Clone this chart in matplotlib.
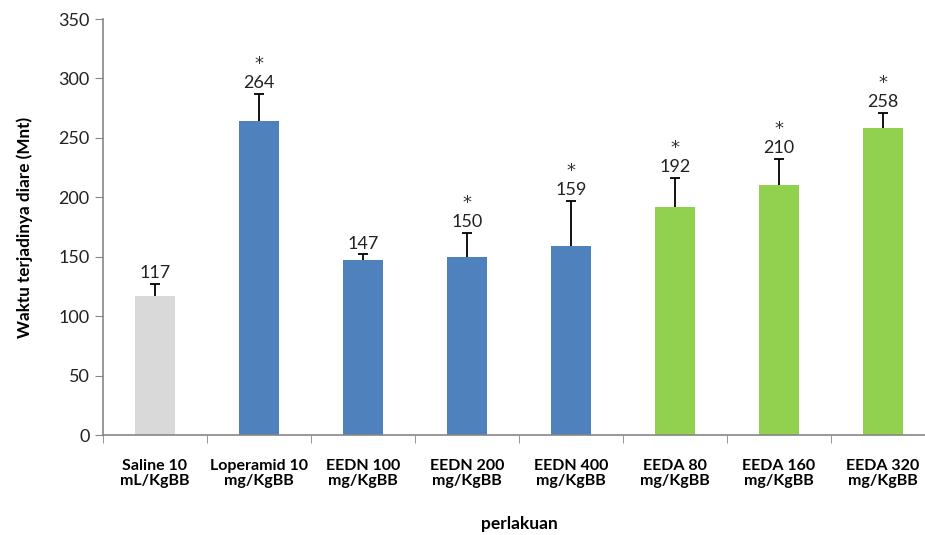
import numpy as np
import matplotlib.pyplot as plt

plt.rcParams['font.family'] = ['Lato', 'DejaVu Sans']

categories = ['Saline 10\nmL/KgBB', 'Loperamid 10\nmg/KgBB', 'EEDN 100\nmg/KgBB',
              'EEDN 200\nmg/KgBB', 'EEDN 400\nmg/KgBB', 'EEDA 80\nmg/KgBB',
              'EEDA 160\nmg/KgBB', 'EEDA 320\nmg/KgBB']
means = [117, 264, 147, 150, 159, 192, 210, 258]
sd = [10, 23, 5, 20, 38, 24, 22, 13]
significant = [False, True, False, True, True, True, True, True]
colors = ['#D9D9D9', '#4F81BD', '#4F81BD', '#4F81BD', '#4F81BD',
          '#92D050', '#92D050', '#92D050']

fig = plt.figure(figsize=(9.25, 5.35), dpi=100)
ax = fig.add_axes([103 / 925, 100 / 535, 832 / 925, 416 / 535])

x = np.arange(len(categories))
ax.bar(x, means, width=0.39, color=colors, zorder=2)
_, caps, _ = ax.errorbar(x, means, yerr=[np.zeros(len(sd)), sd], fmt='none',
                         ecolor='black', elinewidth=1.3, capsize=3.5,
                         capthick=1.3, zorder=3)
caps[0].set_visible(False)  # only the upper cap

for xi, m, s, sig in zip(x, means, sd, significant):
    ax.annotate(f'{m}', (xi, m + s), xytext=(0, 2), textcoords='offset points',
                ha='center', va='bottom', fontsize=13, color='#222222')
    if sig:
        ax.annotate('*', (xi, m + s), xytext=(0, 15), textcoords='offset points',
                    ha='center', va='bottom', fontsize=13, color='#333333',
                    family='DejaVu Sans')

ax.set_xlim(-0.5, 7.5)
ax.set_ylim(0, 350)
ax.set_yticks(range(0, 351, 50))
ax.set_xticks(x)
ax.set_xticklabels(categories, fontsize=11.5, fontweight='bold', linespacing=1.15)
ax.set_xticks(np.arange(-0.5, 8, 1), minor=True)
ax.tick_params(axis='x', which='major', length=0, pad=17)
ax.tick_params(axis='x', which='minor', length=6, color='#868686', direction='out')
ax.tick_params(axis='y', length=6, color='#868686', labelsize=13, labelcolor='#222222')

for side in ['top', 'right']:
    ax.spines[side].set_visible(False)
for side in ['left', 'bottom']:
    ax.spines[side].set_color('#868686')
    ax.spines[side].set_linewidth(1.2)

ax.set_ylabel('Waktu terjadinya diare (Mnt)', fontsize=12.3, fontweight='bold', labelpad=18)
ax.set_xlabel('perlakuan', fontsize=12.5, fontweight='bold', labelpad=20)

fig.savefig('out.png', dpi=100)
